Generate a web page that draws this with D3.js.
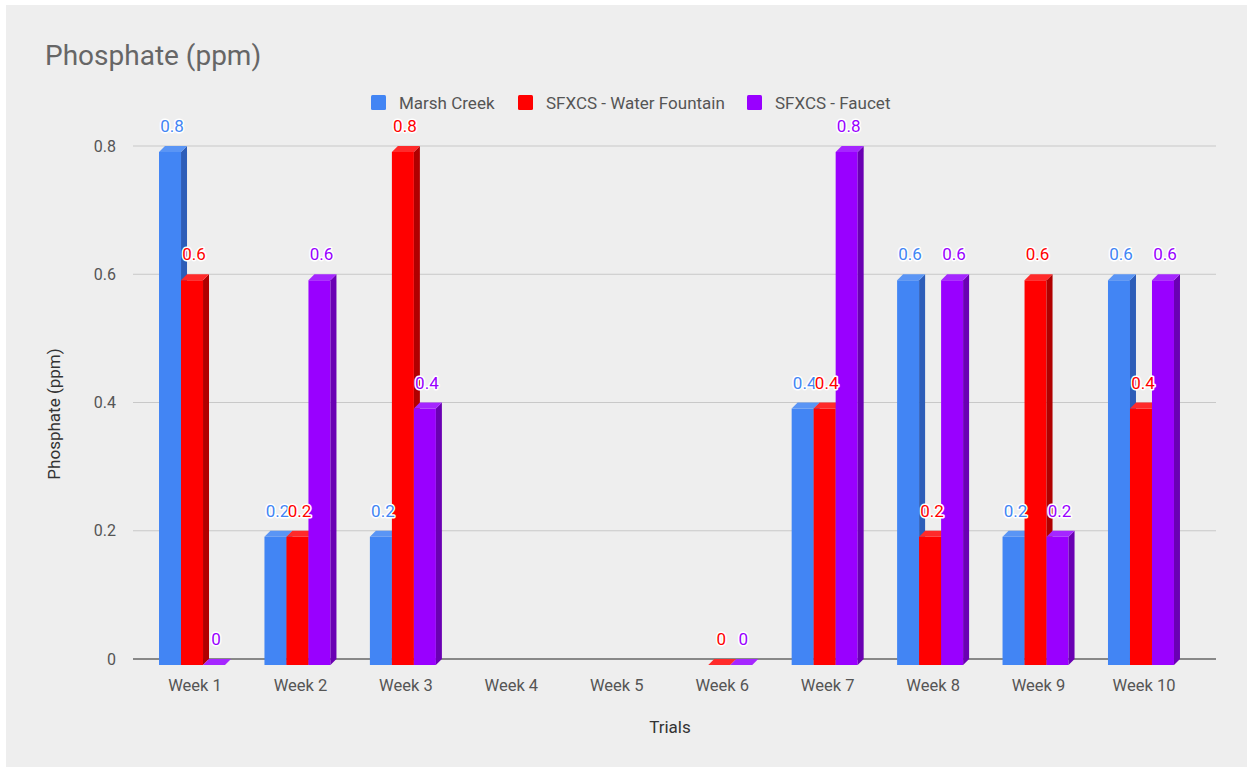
<!DOCTYPE html>
<html><head><meta charset="utf-8">
<script src="https://cdn.jsdelivr.net/npm/d3@7"></script>
<style>html,body{margin:0;padding:0;background:#fff;}svg{display:block;font-family:Roboto,"Noto Sans",sans-serif;}</style>
</head><body>
<svg id="chart" width="1253" height="771"></svg>
<script>
const categories = ["Week 1","Week 2","Week 3","Week 4","Week 5","Week 6","Week 7","Week 8","Week 9","Week 10"];
const seriesNames = ["Marsh Creek","SFXCS - Water Fountain","SFXCS - Faucet"];
const marshCreek = [0.8,0.2,0.2,null,null,null,0.4,0.6,0.2,0.6];
const waterFountain = [0.6,0.2,0.8,null,null,0,0.4,0.2,0.6,0.4];
const faucet = [0,0.6,0.4,null,null,0,0.8,0.6,0.2,0.6];
const yTicks = [0,0.2,0.4,0.6,0.8];
const colors = ["#4285f4","#ff0000","#9900ff"];
const sideColors = ["#2d5db8","#b00000","#6a00b3"];
const topColors = ["#5a95f5","#ff2a2a","#a526ff"];

const series = [marshCreek, waterFountain, faucet];
const svg = d3.select("#chart");
svg.append("rect").attr("x",6).attr("y",5).attr("width",1241).attr("height",762).attr("fill","#eeeeee");

const x0 = d3.scaleBand().domain(categories).range([142.3,1196.7]);
const y = d3.scaleLinear().domain([0,0.8]).range([659,146]);
const depth = 6, barW = 22;
const x1 = d3.scaleBand().domain(d3.range(3)).range([0, barW*3]);

// gridlines
svg.append("g").selectAll("line").data(yTicks.filter(t=>t>0)).join("line")
  .attr("x1",133).attr("x2",1216).attr("y1",d=>y(d)).attr("y2",d=>y(d))
  .attr("stroke","#c8c8c8").attr("stroke-width",1);

// y tick labels
svg.append("g").selectAll("text").data(yTicks).join("text")
  .attr("x",116).attr("y",d=>y(d)+5.5).attr("text-anchor","end")
  .attr("font-size",16).attr("fill","#555").text(d=>d===0?"0":d3.format(".1f")(d));

// baseline
svg.append("line").attr("x1",133).attr("x2",1216).attr("y1",y(0)).attr("y2",y(0))
  .attr("stroke","#666").attr("stroke-width",1.5);

// bars
const bars = svg.append("g");
categories.forEach((c,i)=>{
  const gx = x0(c) + (x0.bandwidth() - (barW*3+depth))/2;
  series.forEach((s,k)=>{
    const v = s[i];
    if (v === null) return;
    const xa = gx + x1(k), xb = xa + barW;
    const yt = y(v), yb = y(0);
    const g = bars.append("g");
    if (v > 0) {
      g.append("rect").attr("x",xa).attr("y",yt+depth).attr("width",barW).attr("height",yb-yt)
        .attr("fill",colors[k]);
      g.append("path").attr("d",`M${xb},${yt+depth}L${xb+depth},${yt}L${xb+depth},${yb}L${xb},${yb+depth}Z`)
        .attr("fill",sideColors[k]);
    }
    g.append("path").attr("d",`M${xa},${yt+depth}L${xa+depth},${yt}L${xb+depth},${yt}L${xb},${yt+depth}Z`)
      .attr("fill",topColors[k]);
  });
});

// labels
const labels = svg.append("g");
categories.forEach((c,i)=>{
  const gx = x0(c) + (x0.bandwidth() - (barW*3+depth))/2;
  series.forEach((s,k)=>{
    const v = s[i];
    if (v === null) return;
    const cx = gx + x1(k) + barW/2 + 2;
    labels.append("text").attr("x",cx).attr("y",y(v)-14).attr("text-anchor","middle")
      .attr("font-size",17).attr("fill",colors[k]).attr("stroke","#fff").attr("stroke-width",3)
      .attr("paint-order","stroke").attr("stroke-linejoin","round")
      .text(v===0?"0":d3.format(".1f")(v));
  });
});

// x labels
svg.append("g").selectAll("text").data(categories).join("text")
  .attr("x",d=>x0(d)+x0.bandwidth()/2).attr("y",691).attr("text-anchor","middle")
  .attr("font-size",16.5).attr("fill","#555").text(d=>d);

// axis titles
svg.append("text").attr("x",670).attr("y",733).attr("text-anchor","middle")
  .attr("font-size",17).attr("fill","#333").text("Trials");
svg.append("text").attr("transform","translate(60,414) rotate(-90)").attr("text-anchor","middle")
  .attr("font-size",17).attr("fill","#333").text("Phosphate (ppm)");

// title
svg.append("text").attr("x",45).attr("y",65).attr("font-size",28).attr("fill","#666").text("Phosphate (ppm)");

// legend
const legX = [371,518,747];
const leg = svg.append("g");
seriesNames.forEach((n,k)=>{
  leg.append("rect").attr("x",legX[k]).attr("y",95).attr("width",15).attr("height",15).attr("rx",1.5).attr("fill",colors[k]);
  leg.append("text").attr("x",legX[k]+28).attr("y",109).attr("font-size",17).attr("fill","#555").text(n);
});
</script>
</body></html>
